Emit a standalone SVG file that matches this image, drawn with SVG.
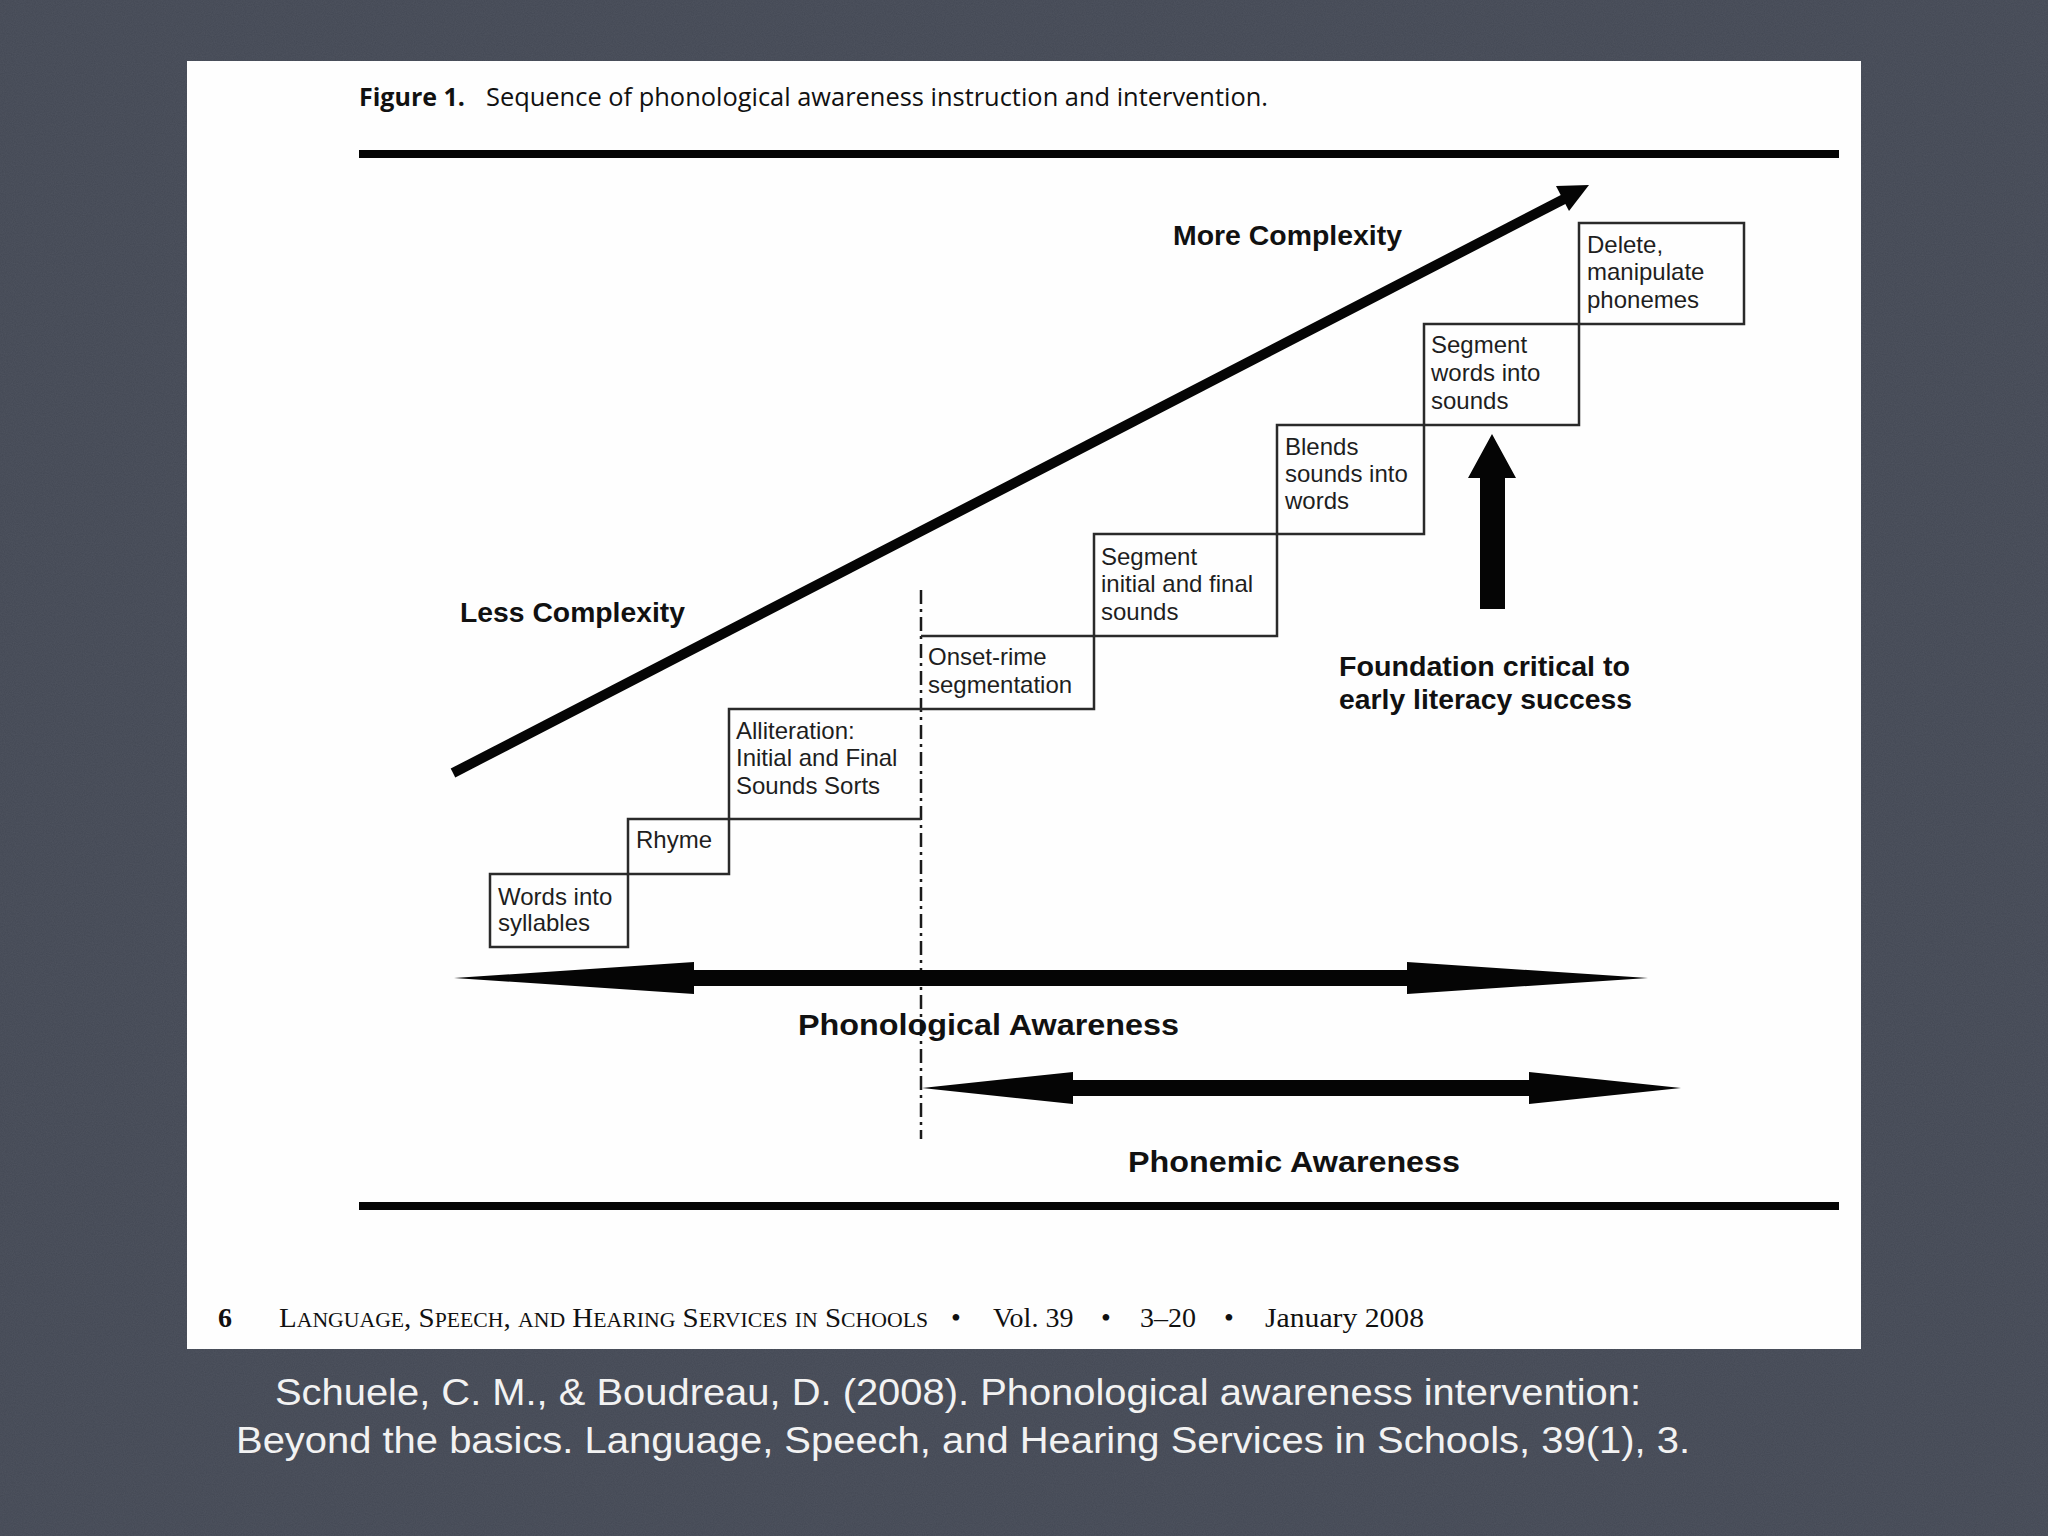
<svg xmlns="http://www.w3.org/2000/svg" width="2048" height="1536" viewBox="0 0 2048 1536">
<defs>
<style>
.box{fill:none;stroke:#2a2a2a;stroke-width:2.5}
.lbl{font-family:"Liberation Sans",Arial,sans-serif;font-size:24px;fill:#1e1e1e}
.bld{font-family:"Liberation Sans",Arial,sans-serif;font-weight:bold;fill:#111}
.ink{fill:#050505}
.cap{font-family:"Liberation Sans",Arial,sans-serif;font-size:36px;fill:#f2f2f2}
.foot{font-family:"Liberation Serif","Times New Roman",serif;font-size:28px;fill:#111}
</style>
<filter id="grain" x="0" y="0" width="100%" height="100%">
<feTurbulence type="fractalNoise" baseFrequency="0.9" numOctaves="2" seed="3"/>
<feColorMatrix type="matrix" values="0 0 0 0 0.8  0 0 0 0 0.82  0 0 0 0 0.88  0 0 0 0.07 0"/>
</filter>
</defs>

<rect width="2048" height="1536" fill="#434854"/>
<rect width="2048" height="1536" filter="url(#grain)"/>
<rect x="187" y="61" width="1674" height="1288" fill="#fefefe"/>

<g id="title">
<text x="359" y="106" font-family="'Open Sans','Liberation Sans',sans-serif" font-weight="bold" font-size="25" fill="#111">Figure 1.</text>
<text x="486" y="106" font-family="'Open Sans','Liberation Sans',sans-serif" font-size="25" fill="#111" textLength="782" lengthAdjust="spacingAndGlyphs">Sequence of phonological awareness instruction and intervention.</text>
</g>
<rect x="359" y="150" width="1480" height="8" fill="#050505"/>
<rect x="359" y="1202" width="1480" height="8" fill="#050505"/>

<g id="connectors">
<line x1="921" y1="590" x2="921" y2="1139" stroke="#1a1a1a" stroke-width="2.5" stroke-dasharray="14 5 3 5"/>
<line x1="453" y1="773" x2="1566" y2="198" stroke="#050505" stroke-width="10"/>
<polygon class="ink" points="1589,185 1556,186 1569,211"/>
<polygon class="ink" points="1480,609 1480,478 1468,478 1492,434 1516,478 1505,478 1505,609"/>
<polygon class="ink" points="454,978 694,962 694,970 1407,970 1407,962 1648,978 1407,994 1407,986 694,986 694,994"/>
<polygon class="ink" points="922,1088 1073,1072 1073,1080 1529,1080 1529,1072 1681,1088 1529,1104 1529,1096 1073,1096 1073,1104"/>
</g>

<g id="n1">
<rect class="box" x="490" y="874" width="138" height="73"/>
<text class="lbl" x="498" y="905">Words into</text>
<text class="lbl" x="498" y="931">syllables</text>
</g>
<g id="n2">
<rect class="box" x="628" y="819" width="101" height="55"/>
<text class="lbl" x="636" y="848">Rhyme</text>
</g>
<g id="n3">
<path class="box" d="M921 709 H729 V819 H921"/>
<text class="lbl" x="736" y="739">Alliteration:</text>
<text class="lbl" x="736" y="766">Initial and Final</text>
<text class="lbl" x="736" y="794">Sounds Sorts</text>
</g>
<g id="n4">
<path class="box" d="M921 636 H1094 V709 H921"/>
<text class="lbl" x="928" y="665">Onset-rime</text>
<text class="lbl" x="928" y="693">segmentation</text>
</g>
<g id="n5">
<rect class="box" x="1094" y="534" width="183" height="102"/>
<text class="lbl" x="1101" y="565">Segment</text>
<text class="lbl" x="1101" y="592">initial and final</text>
<text class="lbl" x="1101" y="620">sounds</text>
</g>
<g id="n6">
<rect class="box" x="1277" y="425" width="147" height="109"/>
<text class="lbl" x="1285" y="455">Blends</text>
<text class="lbl" x="1285" y="482">sounds into</text>
<text class="lbl" x="1285" y="509">words</text>
</g>
<g id="n7">
<rect class="box" x="1424" y="324" width="155" height="101"/>
<text class="lbl" x="1431" y="353">Segment</text>
<text class="lbl" x="1431" y="381">words into</text>
<text class="lbl" x="1431" y="409">sounds</text>
</g>
<g id="n8">
<rect class="box" x="1579" y="223" width="165" height="101"/>
<text class="lbl" x="1587" y="253">Delete,</text>
<text class="lbl" x="1587" y="280">manipulate</text>
<text class="lbl" x="1587" y="308">phonemes</text>
</g>

<g id="labels">
<text class="bld" x="1173" y="245" font-size="28" textLength="229" lengthAdjust="spacingAndGlyphs">More Complexity</text>
<text class="bld" x="460" y="622" font-size="28" textLength="225" lengthAdjust="spacingAndGlyphs">Less Complexity</text>
<text class="bld" x="1339" y="676" font-size="28" textLength="291" lengthAdjust="spacingAndGlyphs">Foundation critical to</text>
<text class="bld" x="1339" y="709" font-size="28" textLength="293" lengthAdjust="spacingAndGlyphs">early literacy success</text>
<text class="bld" x="798" y="1035" font-size="29" textLength="381" lengthAdjust="spacingAndGlyphs">Phonological Awareness</text>
<text class="bld" x="1128" y="1172" font-size="29" textLength="332" lengthAdjust="spacingAndGlyphs">Phonemic Awareness</text>
</g>

<g id="footer">
<text class="foot" x="218" y="1327" font-weight="bold">6</text>
<text class="foot" x="279" y="1327" textLength="649" lengthAdjust="spacingAndGlyphs">L<tspan font-size="21">ANGUAGE</tspan>, S<tspan font-size="21">PEECH</tspan>, <tspan font-size="21">AND</tspan> H<tspan font-size="21">EARING</tspan> S<tspan font-size="21">ERVICES</tspan> <tspan font-size="21">IN</tspan> S<tspan font-size="21">CHOOLS</tspan></text>
<text class="foot" x="951" y="1327" font-size="32">•</text>
<text class="foot" x="993" y="1327">Vol. 39</text>
<text class="foot" x="1101" y="1327" font-size="32">•</text>
<text class="foot" x="1140" y="1327">3–20</text>
<text class="foot" x="1224" y="1327" font-size="32">•</text>
<text class="foot" x="1265" y="1327" textLength="159" lengthAdjust="spacingAndGlyphs">January 2008</text>
</g>

<g id="caption">
<text class="cap" x="958" y="1405" text-anchor="middle" textLength="1366" lengthAdjust="spacingAndGlyphs">Schuele, C. M., &amp; Boudreau, D. (2008). Phonological awareness intervention:</text>
<text class="cap" x="963" y="1453" text-anchor="middle" textLength="1454" lengthAdjust="spacingAndGlyphs">Beyond the basics. Language, Speech, and Hearing Services in Schools, 39(1), 3.</text>
</g>
</svg>
